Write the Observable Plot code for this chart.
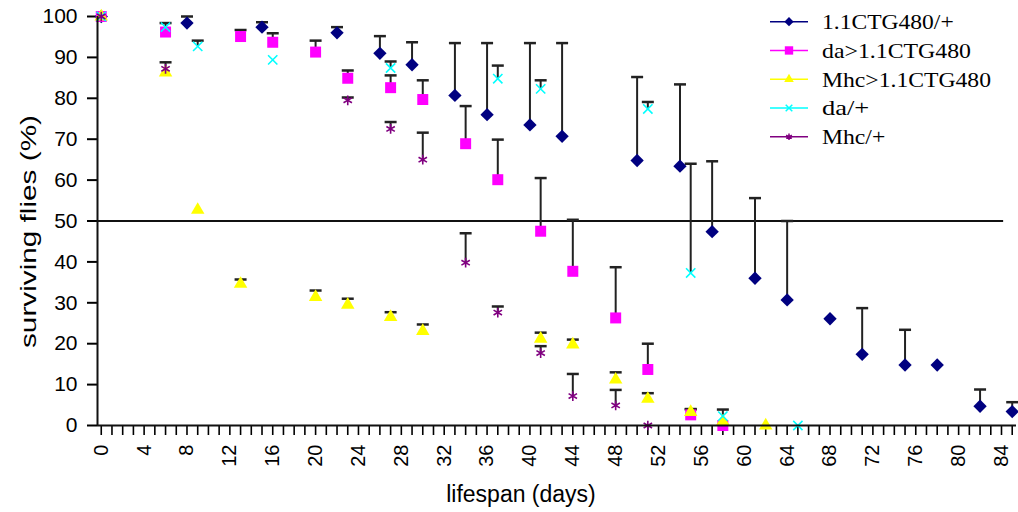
<!DOCTYPE html>
<html>
<head>
<meta charset="utf-8">
<script src="https://cdn.jsdelivr.net/npm/d3@7"></script>
<script src="https://cdn.jsdelivr.net/npm/@observablehq/plot@0.6"></script>
<style>
  html, body { margin: 0; padding: 0; background: #fff; }
  #chart { width: 1018px; height: 512px; position: relative; }
</style>
</head>
<body>
<div id="chart"></div>
<script>
// ---- Series names and colours ----
const seriesNames = ["1.1CTG480/+", "da>1.1CTG480", "Mhc>1.1CTG480", "da/+", "Mhc/+"];
const seriesColors = ["#000080", "#FF00FF", "#FFFF00", "#00FFFF", "#800080"];

// ---- Data: lifespan day, % surviving, upper end of error bar ----
const ctgDays  = [0, 8, 15, 22, 26, 29, 33, 36, 40, 43, 50, 54, 57, 61, 64, 68, 71, 75, 78, 82, 85];
const ctgSurv  = [100, 98.4, 97.4, 96.0, 91.0, 88.2, 80.7, 76.0, 73.5, 70.7, 64.8, 63.4, 47.4, 36.0, 30.7, 26.1, 17.4, 14.8, 14.8, 4.7, 3.4];
const ctgUpper = [null, 100, 98.6, 97.4, 95.2, 93.7, 93.5, 93.5, 93.5, 93.5, 85.2, 83.4, 64.6, 55.6, 50.0, null, 28.7, 23.4, null, 8.8, 5.7];

const daCtgDays  = [0, 6, 13, 16, 20, 23, 27, 30, 34, 37, 41, 44, 48, 51, 55, 58];
const daCtgSurv  = [100, 96.2, 95.1, 93.7, 91.3, 84.9, 82.6, 79.7, 68.9, 60.1, 47.5, 37.7, 26.3, 13.7, 2.6, 0];
const daCtgUpper = [null, 98.4, 96.7, 95.9, 94.1, 86.8, 85.6, 84.4, 78.1, 69.9, 60.5, 50.3, 38.7, 20.0, 4.0, null];

const mhcCtgDays  = [0, 6, 9, 13, 20, 23, 27, 30, 41, 44, 48, 51, 55, 58, 62];
const mhcCtgSurv  = [100, 86.3, 52.7, 34.6, 31.4, 29.5, 26.5, 23.1, 21.2, 19.8, 11.2, 6.5, 3.3, 1.0, 0];
const mhcCtgUpper = [null, null, null, 35.7, 33.0, 31.0, 27.7, 24.7, 22.7, 21.0, 13.0, 7.9, 4.0, null, null];

const daDays  = [0, 6, 9, 16, 27, 37, 41, 51, 55, 58, 65];
const daSurv  = [100, 97.4, 92.7, 89.4, 87.4, 84.8, 82.3, 77.4, 37.3, 2.3, 0];
const daUpper = [null, null, 94.1, null, 89.0, 88.0, 84.4, 79.1, 64.0, 3.9, null];

const mhcDays  = [0, 6, 23, 27, 30, 34, 37, 41, 44, 48, 51];
const mhcSurv  = [100, 87.2, 79.5, 72.5, 65.0, 39.8, 27.6, 17.7, 7.2, 4.9, 0];
const mhcUpper = [null, 88.8, 80.2, 74.2, 71.6, 47.0, 29.1, 19.4, 12.6, 8.7, null];

// ---- Axis ticks ----
const yTicks = [0, 10, 20, 30, 40, 50, 60, 70, 80, 90, 100];
const xTicks = d3.range(0, 86);
const xLabelEvery = 4;
const halfSurvival = 50;
const halfLineEndDay = 84.2;

// ---- Build table ----
const raw = [
  [ctgDays, ctgSurv, ctgUpper],
  [daCtgDays, daCtgSurv, daCtgUpper],
  [mhcCtgDays, mhcCtgSurv, mhcCtgUpper],
  [daDays, daSurv, daUpper],
  [mhcDays, mhcSurv, mhcUpper]
];
const rows = [];
raw.forEach(([days, surv, upper], i) => {
  days.forEach((d, j) => rows.push({series: seriesNames[i], idx: i, day: d, surv: surv[j], upper: upper[j]}));
});
const bars = rows.filter(r => r.upper != null);

const capSymbol = {draw(ctx) { ctx.moveTo(-6, 0); ctx.lineTo(6, 0); }};
const markerStyle = [
  {symbol: "diamond2", r: 6.0, fill: seriesColors[0], stroke: "none"},
  {symbol: "square", r: 6.2, fill: seriesColors[1], stroke: "none"},
  {symbol: "triangle", r: 5.0, fill: seriesColors[2], stroke: "none"},
  {symbol: "times", r: 4.3, fill: "none", stroke: seriesColors[3], strokeWidth: 1.6},
  {symbol: "asterisk", r: 4.6, fill: "none", stroke: seriesColors[4], strokeWidth: 1.6}
];

const xDomain = [-0.35, 85.4];
const font = "'Liberation Sans', Arial, sans-serif";

const svg = Plot.plot({
  width: 1018,
  height: 512,
  marginTop: 16,
  marginBottom: 87,
  marginLeft: 97,
  marginRight: 2,
  style: {fontFamily: font, fontSize: "20px", background: "white", color: "#000"},
  x: {domain: xDomain, label: null},
  y: {domain: [0, 100], label: null},
  marks: [
    Plot.axisY({ticks: yTicks, tickSize: 10, tickPadding: 10, fontSize: 21, strokeWidth: 2, label: null}),
    Plot.axisX({ticks: xTicks, tickSize: 10, tickPadding: 9, tickRotate: -90, fontSize: 20, strokeWidth: 1.6,
      tickFormat: d => d % xLabelEvery === 0 ? String(d) : "", label: null}),
    Plot.ruleY([halfSurvival], {x1: xDomain[0], x2: halfLineEndDay, stroke: "#111", strokeWidth: 2}),
    Plot.ruleX(bars, {x: "day", y1: "surv", y2: "upper", stroke: "#222", strokeWidth: 2}),
    Plot.dot(bars, {x: "day", y: "upper", symbol: capSymbol, r: 4, stroke: "#222", strokeWidth: 2.5}),
    ...markerStyle.map((m, i) => Plot.dot(rows.filter(r => r.idx === i), {x: "day", y: "surv", ...m})),
    Plot.ruleX([xDomain[0]], {stroke: "#111", strokeWidth: 2}),
    Plot.ruleY([0], {stroke: "#111", strokeWidth: 2})
  ]
});

const sel = d3.select(svg);
// Axis titles
sel.append("text")
  .attr("x", 521).attr("y", 502)
  .attr("text-anchor", "middle")
  .attr("font-family", font).attr("font-size", 23)
  .attr("fill", "#000")
  .text("lifespan (days)");
sel.append("text")
  .attr("transform", "translate(36,231.5) rotate(-90)")
  .attr("text-anchor", "middle")
  .attr("font-family", font).attr("font-size", 22)
  .attr("textLength", 233).attr("lengthAdjust", "spacingAndGlyphs")
  .attr("fill", "#000")
  .text("surviving flies (%)");

// Legend
const legendSymbols = [d3.symbolDiamond2, d3.symbolSquare, d3.symbolTriangle, d3.symbolTimes, d3.symbolAsterisk];
const legendSizes = [55, 70, 40, 30, 30];
const legendTextLen = [131.7, 149, 169, 47.3, 63.3];
const lg = sel.append("g").attr("text-anchor", "start");
seriesNames.forEach((name, i) => {
  const y = 21.7 + i * 28.75;
  lg.append("line").attr("x1", 770).attr("x2", 808).attr("y1", y).attr("y2", y)
    .attr("stroke", seriesColors[i]).attr("stroke-width", 1.5);
  const filled = i < 3;
  lg.append("path").attr("transform", `translate(789,${y})`)
    .attr("d", d3.symbol(legendSymbols[i], legendSizes[i])())
    .attr("fill", filled ? seriesColors[i] : "none")
    .attr("stroke", filled ? "none" : seriesColors[i])
    .attr("stroke-width", 1.5);
  lg.append("text").attr("x", 822).attr("y", y + 7.5)
    .attr("text-anchor", "start")
    .attr("font-family", "'Liberation Serif', 'Times New Roman', serif")
    .attr("font-size", 22)
    .attr("textLength", legendTextLen[i]).attr("lengthAdjust", "spacingAndGlyphs")
    .attr("fill", "#000")
    .text(name);
});

document.getElementById("chart").appendChild(svg);
</script>
</body>
</html>
